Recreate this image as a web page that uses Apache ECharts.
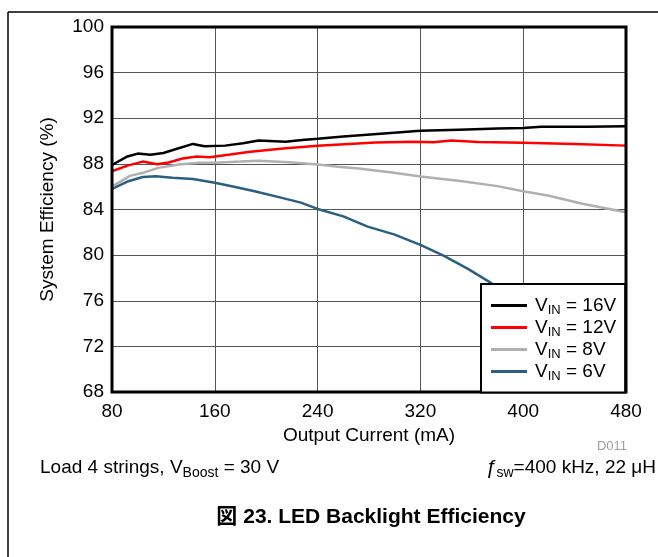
<!DOCTYPE html>
<html>
<head>
<meta charset="utf-8">
<script src="https://cdn.jsdelivr.net/npm/echarts@6/dist/echarts.min.js"></script>
<style>
html,body{margin:0;padding:0;background:#fff;}
#c{width:658px;height:557px;}
</style>
</head>
<body>
<div id="c"></div>
<script>
var FONT = '"Liberation Sans", Arial, "Noto Sans CJK JP", sans-serif';

var seriesNames = ['16V', '12V', '8V', '6V'];
var seriesColors = ['#000000', '#ff0000', '#b0b0b0', '#2b6080'];

var x16 = [80, 92, 100, 110, 120, 130, 143, 152, 168, 182, 194, 215, 228, 240, 260, 289, 320, 350, 380, 400, 414, 450, 480];
var y16 = [87.9, 88.65, 88.9, 88.8, 88.95, 89.3, 89.75, 89.55, 89.6, 89.8, 90.05, 89.95, 90.1, 90.2, 90.4, 90.65, 90.9, 91.0, 91.1, 91.15, 91.25, 91.25, 91.3];

var x12 = [80, 92, 104, 115, 124, 135, 146, 156, 172, 186, 213, 240, 285, 314, 330, 344, 365, 400, 440, 480];
var y12 = [87.35, 87.85, 88.2, 87.97, 88.12, 88.47, 88.65, 88.58, 88.82, 89.05, 89.34, 89.58, 89.88, 89.95, 89.9, 90.05, 89.92, 89.85, 89.75, 89.6];

var x8 = [80, 94, 105, 116, 132, 148, 160, 180, 194, 218, 240, 256, 272, 298, 320, 351, 380, 400, 420, 446, 480];
var y8 = [86.0, 86.95, 87.25, 87.65, 87.95, 88.1, 88.1, 88.2, 88.28, 88.15, 87.95, 87.75, 87.6, 87.25, 86.9, 86.5, 86.05, 85.6, 85.2, 84.5, 83.75];

var x6 = [80, 92, 104, 114, 127, 143, 160, 175, 191, 213, 227, 240, 260, 279, 300, 320, 338, 357, 373, 390, 410, 440, 480];
var y6 = [85.8, 86.45, 86.85, 86.92, 86.78, 86.68, 86.35, 86.0, 85.6, 85.0, 84.6, 84.05, 83.4, 82.5, 81.8, 80.9, 79.95, 78.8, 77.7, 76.4, 74.8, 72.5, 69.2];

var xTicks = {min: 80, max: 480, interval: 80};
var yTicks = {min: 68, max: 100, interval: 4};

function zip(xs, ys) { return xs.map(function (x, i) { return [x, ys[i]]; }); }
var allX = [x16, x12, x8, x6];
var allY = [y16, y12, y8, y6];

var chart = echarts.init(document.getElementById('c'), null, {renderer: 'canvas'});

var series = seriesNames.map(function (n, i) {
  return {
    name: n,
    type: 'line',
    data: zip(allX[i], allY[i]),
    symbol: 'none',
    smooth: false,
    z: 2 + (3 - i),
    lineStyle: {color: seriesColors[i], width: 2.5},
    itemStyle: {color: seriesColors[i]}
  };
});

chart.setOption({
  animation: false,
  backgroundColor: '#ffffff',
  textStyle: {fontFamily: FONT},
  grid: {
    left: 112, right: 32, top: 27, bottom: 165,
    show: true, borderColor: '#000', borderWidth: 3, backgroundColor: 'transparent',
    z: 10
  },
  xAxis: {
    type: 'value', min: xTicks.min, max: xTicks.max, interval: xTicks.interval,
    name: 'Output Current (mA)', nameLocation: 'middle', nameGap: 34,
    nameTextStyle: {color: '#000', fontSize: 19, fontFamily: FONT},
    axisLine: {show: false}, axisTick: {show: false},
    axisLabel: {color: '#000', fontSize: 19, margin: 10, fontFamily: FONT},
    splitLine: {show: true, lineStyle: {color: '#555', width: 1}}
  },
  yAxis: {
    type: 'value', min: yTicks.min, max: yTicks.max, interval: yTicks.interval,
    name: 'System Efficiency (%)', nameLocation: 'middle', nameGap: 55,
    nameTextStyle: {color: '#000', fontSize: 19, fontFamily: FONT},
    axisLine: {show: false}, axisTick: {show: false},
    axisLabel: {color: '#000', fontSize: 19, margin: 8, fontFamily: FONT},
    splitLine: {show: true, lineStyle: {color: '#555', width: 1}}
  },
  legend: {
    orient: 'vertical',
    left: 481, top: 284,
    padding: [12, 9, 10, 10],
    itemGap: 1.5,
    itemWidth: 36, itemHeight: 3,
    icon: 'rect',
    backgroundColor: '#fff',
    borderColor: '#000', borderWidth: 2,
    z: 20,
    data: seriesNames,
    formatter: function (n) { return '{v|V}{s|IN}{t| = ' + n + '}'; },
    textStyle: {
      color: '#000', fontFamily: FONT, fontSize: 19,
      rich: {
        v: {fontSize: 19, fontFamily: FONT, color: '#000', lineHeight: 22, padding: [0, 0, 0, 3]},
        s: {fontSize: 13, fontFamily: FONT, color: '#000', lineHeight: 22, verticalAlign: 'bottom'},
        t: {fontSize: 19, fontFamily: FONT, color: '#000', lineHeight: 22}
      }
    }
  },
  graphic: [
    {type: 'line', shape: {x1: 8, y1: 12, x2: 658, y2: 12}, style: {stroke: '#000', lineWidth: 1.5}, silent: true},
    {type: 'line', shape: {x1: 8, y1: 12, x2: 8, y2: 557}, style: {stroke: '#000', lineWidth: 1.5}, silent: true},
    {type: 'text', x: 627, y: 446, style: {text: 'D011', fill: '#a0a0a0', font: '13px ' + FONT, textAlign: 'right', textVerticalAlign: 'middle'}},
    {type: 'text', x: 40, y: 468, style: {
      text: '{a|Load 4 strings, V}{b|Boost}{a| = 30 V}',
      textVerticalAlign: 'middle',
      rich: {
        a: {fontSize: 19, fontFamily: FONT, fill: '#000', lineHeight: 24},
        b: {fontSize: 14, fontFamily: FONT, fill: '#000', lineHeight: 24, verticalAlign: 'bottom'}
      }
    }},
    {type: 'text', x: 656, y: 468, style: {
      text: '{f|ƒ}{b|sw}{a|=400 kHz, 22 μH}',
      textAlign: 'right', textVerticalAlign: 'middle',
      rich: {
        f: {fontSize: 20, fontFamily: FONT, fontStyle: 'italic', fill: '#000', lineHeight: 24},
        a: {fontSize: 19, fontFamily: FONT, fill: '#000', lineHeight: 24},
        b: {fontSize: 14, fontFamily: FONT, fill: '#000', lineHeight: 24, verticalAlign: 'bottom'}
      }
    }},
    {type: 'text', x: 371, y: 517, style: {
      text: '図 23. LED Backlight Efficiency', textAlign: 'center', textVerticalAlign: 'middle',
      font: 'bold 21px ' + FONT, fill: '#000'
    }}
  ],
  series: series
});
</script>
</body>
</html>
